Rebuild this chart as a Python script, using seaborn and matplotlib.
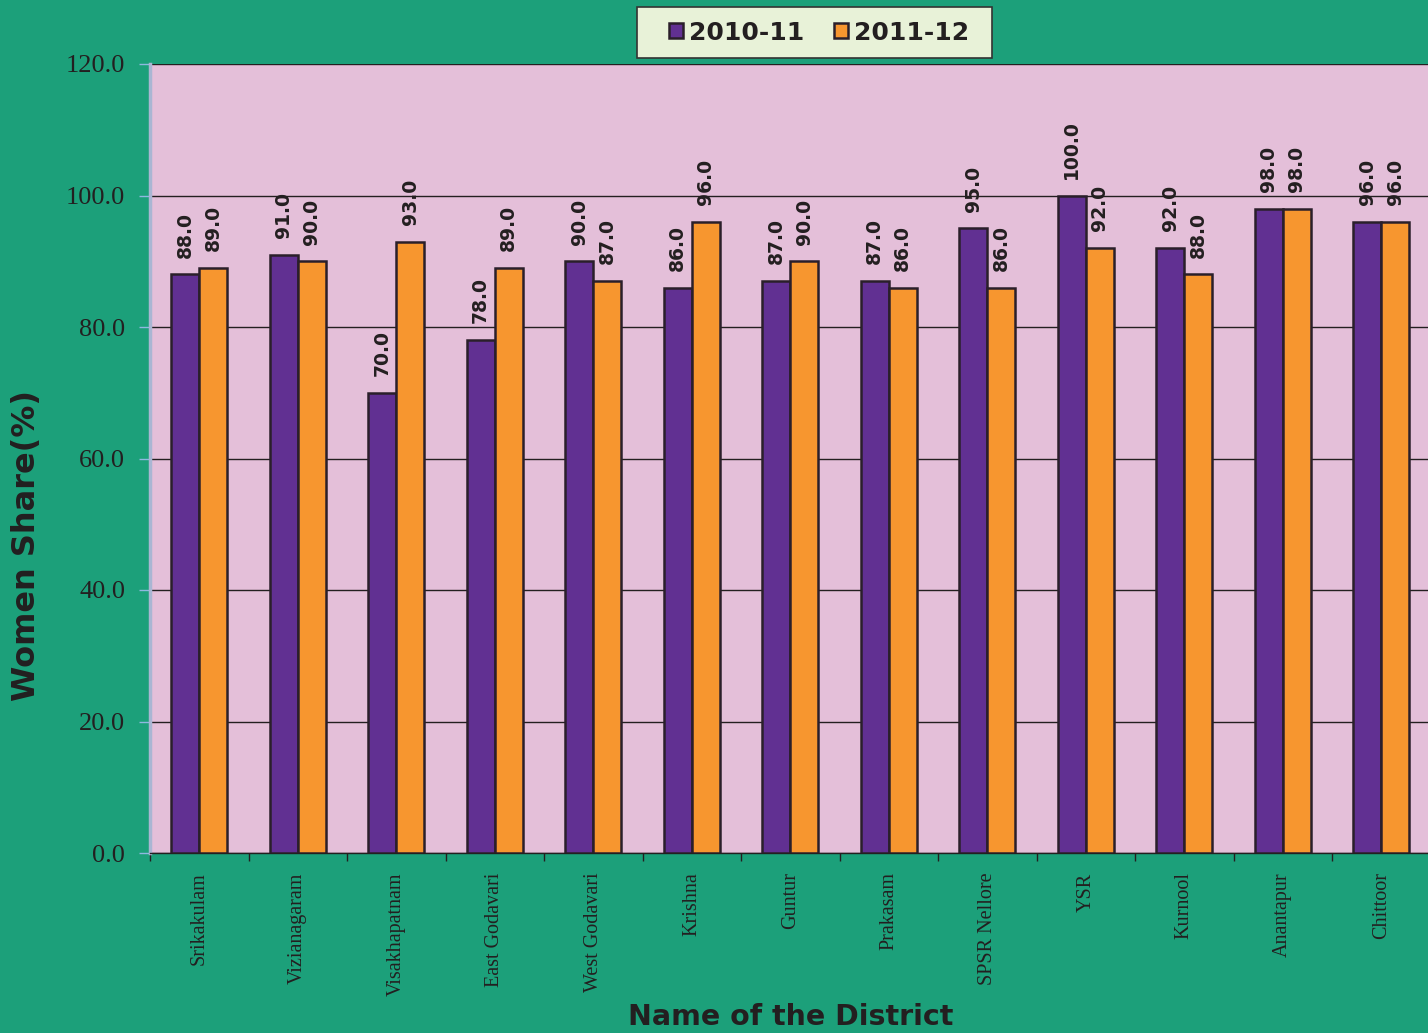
import pandas as pd
import numpy as np
import matplotlib
matplotlib.use("Agg")
import matplotlib.pyplot as plt
import seaborn as sns
from matplotlib.ticker import FixedLocator
from matplotlib.patches import Rectangle

districts = ["Srikakulam", "Vizianagaram", "Visakhapatnam", "East Godavari",
             "West Godavari", "Krishna", "Guntur", "Prakasam", "SPSR Nellore",
             "YSR", "Kurnool", "Anantapur", "Chittoor"]
share_2010_11 = [88, 91, 70, 78, 90, 86, 87, 87, 95, 100, 92, 98, 96]
share_2011_12 = [89, 90, 93, 89, 87, 96, 90, 86, 86, 92, 88, 98, 96]
years = ["2010-11", "2011-12"]
y_ticks = [0, 20, 40, 60, 80, 100, 120]

BG = "#1ca07a"
PLOT_BG = "#e4bfd9"
PURPLE = "#613092"
ORANGE = "#f7962f"
TXT = "#231f20"

df = pd.DataFrame({
    "District": districts * 2,
    "Year": [years[0]] * len(districts) + [years[1]] * len(districts),
    "Share": share_2010_11 + share_2011_12,
})

sns.set_style("white")
plt.rcParams["font.family"] = ["DejaVu Sans"]

fig = plt.figure(figsize=(14.28, 10.33), dpi=100, facecolor=BG)
ax = fig.add_axes([150 / 1428, 180 / 1033, 1280.5 / 1428, 789 / 1033])
ax.set_facecolor(PLOT_BG)

sns.barplot(data=df, x="District", y="Share", hue="Year", order=districts,
            hue_order=years, palette=[PURPLE, ORANGE], width=0.57, gap=0,
            edgecolor="#2a1f2a", linewidth=1.8, saturation=1, ax=ax, zorder=3)

for cont in ax.containers:
    ax.bar_label(cont, fmt="%.1f", rotation=90, padding=12, fontsize=13.5,
                 fontweight="bold", color=TXT)

ax.set_ylim(0, 120)
ax.set_xlim(-0.5, len(districts) - 0.5)
ax.yaxis.set_major_locator(FixedLocator(y_ticks))
ax.set_yticklabels([f"{v:.1f}" for v in y_ticks], family="Liberation Serif",
                   fontsize=19, color=TXT)
ax.yaxis.grid(True, color="#231f20", linewidth=1)
ax.set_axisbelow(True)

ax.set_xticks(range(len(districts)))
ax.set_xticklabels(districts, rotation=90, family="Liberation Serif",
                   fontsize=14.5, color=TXT, va="top")
ax.tick_params(axis="x", which="major", length=0, pad=14)
ax.set_xticks(np.arange(-0.5, len(districts), 1.0), minor=True)
ax.tick_params(axis="x", which="minor", length=6, width=1, color=TXT,
               direction="out", bottom=True)
ax.tick_params(axis="y", which="major", length=8, width=1, color="#8fb8e0",
               direction="out", left=True, pad=10)

for side in ["top", "right"]:
    ax.spines[side].set_visible(False)
ax.spines["left"].set_color("#a9b6d3")
ax.spines["left"].set_linewidth(2.5)
ax.spines["bottom"].set_color(TXT)
ax.spines["bottom"].set_linewidth(1)

ax.set_ylabel("Women Share(%)", fontsize=23, fontweight="bold", color=TXT)
ax.yaxis.set_label_coords(-0.0843, 0.39)
ax.set_xlabel("Name of the District", fontsize=20.5, fontweight="bold",
              color=TXT)
ax.xaxis.set_label_coords(0.5, -0.190)

# legend frame drawn separately (x 637-992, y 7-58 px in the reference)
fig.patches.append(Rectangle((637 / 1428, 975 / 1033), 355 / 1428, 51 / 1033,
                             transform=fig.transFigure, facecolor="#e8f2d8",
                             edgecolor="#333333", linewidth=1.2, zorder=-1))
handles, labels = ax.get_legend_handles_labels()
ax.get_legend().remove()
leg = fig.legend(handles, labels, loc="center",
                 bbox_to_anchor=(819 / 1428, 1000.5 / 1033),
                 bbox_transform=fig.transFigure, ncol=2, frameon=False,
                 prop={"weight": "bold", "size": 18},
                 handlelength=0.55, handleheight=0.55, handletextpad=0.25,
                 columnspacing=1.2, borderpad=0.3, borderaxespad=0)
leg.set_zorder(10)
for t in leg.get_texts():
    t.set_color(TXT)

fig.savefig("out.png", dpi=100, facecolor=BG)
